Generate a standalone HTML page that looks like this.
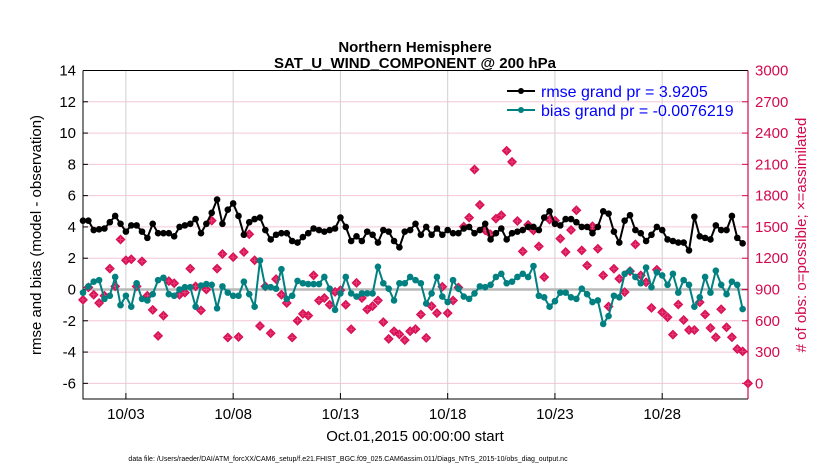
<!DOCTYPE html>
<html><head><meta charset="utf-8"><style>
body{margin:0;background:#fff;}
svg text{font-family:"Liberation Sans",Arial,sans-serif;}
</style></head><body>
<svg id="chart" width="830" height="470" xmlns="http://www.w3.org/2000/svg">
<text x="415" y="52" font-size="15" font-weight="bold" text-anchor="middle">Northern Hemisphere</text>
<text x="415" y="68" font-size="15" font-weight="bold" text-anchor="middle">SAT_U_WIND_COMPONENT @ 200 hPa</text>
<g id="grid"></g><g id="axes"></g><g id="marks"></g>
<text transform="translate(41,235) rotate(-90)" font-size="15" text-anchor="middle">rmse and bias (model - observation)</text>
<text transform="translate(806,235) rotate(-90)" font-size="15" fill="#d4094f" text-anchor="middle"># of obs: o=possible; ×=assimilated</text>
<text x="415" y="441" font-size="15" text-anchor="middle">Oct.01,2015 00:00:00 start</text>
<text x="348" y="461" font-size="7" text-anchor="middle">data file: /Users/raeder/DAI/ATM_forcXX/CAM6_setup/f.e21.FHIST_BGC.f09_025.CAM6assim.011/Diags_NTrS_2015-10/obs_diag_output.nc</text>
<g>
<line x1="507" y1="91" x2="535" y2="91" stroke="#000" stroke-width="2"/><circle cx="521" cy="91" r="3" fill="#000"/>
<text x="541" y="97" font-size="16" fill="#0000ff">rmse grand pr = 3.9205</text>
<line x1="507" y1="110" x2="535" y2="110" stroke="#008080" stroke-width="2"/><circle cx="521" cy="110" r="3" fill="#008080"/>
<text x="541" y="116" font-size="16" fill="#0000ff">bias grand pr = -0.0076219</text>
</g>
</svg>
<script>
const rmse=[4.4,4.4,3.8,3.85,3.9,4.3,4.7,4.2,3.7,4.1,4.1,3.7,3.3,4.2,3.6,3.6,3.6,3.4,4.0,4.1,4.2,4.5,3.6,4.2,4.9,5.75,4.2,5.1,5.5,4.7,3.5,4.3,4.5,4.6,3.8,3.2,3.5,3.6,3.6,3.1,3.0,
3.35,3.6,3.9,3.8,3.7,3.8,3.9,4.6,4.0,3.1,3.4,3.1,3.7,3.5,3.0,3.8,3.7,3.1,2.7,3.7,3.8,4.2,3.5,4.0,3.5,3.9,3.5,3.8,3.6,3.6,3.9,4.0,3.6,3.8,4.2,3.2,3.6,3.9,3.2,3.6,3.7,3.8,
4.0,4.0,3.8,4.6,5.0,4.2,4.1,4.5,4.5,4.3,4.0,4.0,3.6,4.0,5.0,4.85,3.7,3.0,4.4,4.75,3.8,3.6,3.1,3.5,4.0,3.8,3.2,3.1,3.0,3.0,2.5,4.65,3.4,3.3,3.2,4.1,3.8,3.8,4.7,3.3,2.95];
const bias=[-0.2,0.2,0.5,0.6,-0.6,-0.4,0.8,-1.0,-0.4,-1.1,0.4,-0.6,-0.7,-0.3,0.6,0.75,-0.3,-0.4,0.0,0.15,0.15,-1.1,0.25,0.35,0.3,-1.2,0.2,-0.2,-0.4,-0.4,0.5,-0.3,-1.1,1.85,0.15,0.15,0.05,1.3,-0.6,-0.4,0.55,
0.4,0.35,0.35,0.35,0.8,0.05,-1.3,-0.25,0.8,-0.25,-0.45,-0.25,-0.25,-0.25,1.45,0.4,0.05,-0.7,0.4,0.4,0.8,0.6,0.4,-0.9,-0.25,0.8,-0.45,-0.8,0.6,0.05,-0.45,-0.6,-0.25,0.2,0.15,0.3,0.8,1.0,0.4,0.5,0.8,1.0,
0.8,1.5,-0.4,-0.5,-1.1,-0.75,-0.2,-0.2,-0.5,-0.6,0.05,-0.3,-0.8,-0.7,-2.2,-1.7,-0.4,-0.5,1.0,1.2,0.8,0.4,1.4,0.15,1.1,0.9,0.3,1.0,-0.2,0.6,0.3,-1.1,-0.5,0.8,-0.2,1.2,0.3,-0.3,0.5,0.3,-1.25];
const nobs=[800,920,850,770,840,1100,930,1380,1180,1190,930,1170,840,705,455,650,980,960,850,870,1100,930,700,900,1560,1100,1240,440,1210,445,1260,1430,1180,550,930,480,1000,850,770,440,600,
666,650,1036,795,818,754,877,893,754,519,964,818,708,741,795,587,427,500,470,414,500,520,660,436,741,673,926,673,795,919,1503,1589,2051,1711,1467,1429,1580,1612,2230,2124,1557,1265,1520,
1467,1313,1019,1570,1560,1388,1259,1470,1660,1275,1130,1506,1291,1035,737,1099,1003,875,1076,1333,1035,970,724,1089,682,634,467,756,608,512,512,778,660,531,442,711,538,442,330,307,0];
const yTicks=[14,12,10,8,6,4,2,0,-2,-4,-6];
const y2Ticks=[3000,2700,2400,2100,1800,1500,1200,900,600,300,0];
const xTickDays=[2,7,12,17,22,27];
const xTickLabels=['10/03','10/08','10/13','10/18','10/23','10/28'];
const stepDays=0.25;
const NS='http://www.w3.org/2000/svg';
const L=83,R=748,T=70.5,B=399;
const xs=d=>L+(d/31)*(R-L);
const ys=v=>T+(14-v)/21*(B-T);
const ys2=n=>ys(n/150-6);
function mk(tag,attrs,parent){const e=document.createElementNS(NS,tag);for(const k in attrs)e.setAttribute(k,attrs[k]);parent.appendChild(e);return e;}
const grid=document.getElementById('grid'),axes=document.getElementById('axes'),marks=document.getElementById('marks');
yTicks.forEach(v=>{
 const g=mk('line',{x1:L,x2:R,y1:ys(v),y2:ys(v),stroke:'#f4c6d8','stroke-width':1},grid);
 
 
 const t=mk('text',{x:L-7,y:ys(v)+5,'font-size':15,'text-anchor':'end'},axes);t.textContent=v;
 
 
 mk('line',{x1:L,x2:L+5,y1:ys(v),y2:ys(v),stroke:'#000'},axes);
});
y2Ticks.forEach(n=>{
 const t=mk('text',{x:R+7,y:ys2(n)+5,'font-size':15,fill:'#d4094f'},axes);t.textContent=n;
 
 
 mk('line',{x1:R-6,x2:R,y1:ys2(n),y2:ys2(n),stroke:'#d4094f'},axes);
});
xTickDays.forEach((d,i)=>{
 const g=mk('line',{x1:xs(d),x2:xs(d),y1:T,y2:B,stroke:'#d0d0d0','stroke-width':1},grid);
 
 
 mk('line',{x1:xs(d),x2:xs(d),y1:B,y2:B-6,stroke:'#000'},axes);
 const t=mk('text',{x:xs(d),y:B+20,'font-size':15,'text-anchor':'middle'},axes);t.textContent=xTickLabels[i];
 
 
});
const zl=mk('line',{x1:L,x2:R,y1:ys(0),y2:ys(0),stroke:'#b8b8b8','stroke-width':2.5},grid);


const fr=mk('path',{d:`M${L},${T}H${R}M${L},${T}V${B}H${R}`,fill:'none',stroke:'#000','stroke-width':1},axes);


const ra=mk('line',{x1:R,x2:R,y1:T,y2:B,stroke:'#d4094f','stroke-width':1.2},axes);


nobs.forEach((n,i)=>{
 const x=xs(i*stepDays),y=ys2(n),s=5;
 const p=mk('path',{d:`M${x},${y-s}L${x+s},${y}L${x},${y+s}L${x-s},${y}Z`,fill:'#d80f55'},marks);
 
 
 mk('path',{d:`M${x-3},${y}H${x+3}M${x},${y-3}V${y+3}`,stroke:'#e8407a','stroke-width':1},marks);
});
function series(arr,color,name){
 const pts=arr.map((v,i)=>[xs(i*stepDays),ys(v)]);
 const pl=mk('polyline',{points:pts.map(p=>p.join(',')).join(' '),fill:'none',stroke:color,'stroke-width':2},marks);
 
 
 pts.forEach(p=>{
  const c=mk('circle',{cx:p[0],cy:p[1],r:3.3,fill:color},marks);
  
  
 });
}
series(bias,'#008080','bias');
series(rmse,'#000000','rmse');
</script>
</body></html>
